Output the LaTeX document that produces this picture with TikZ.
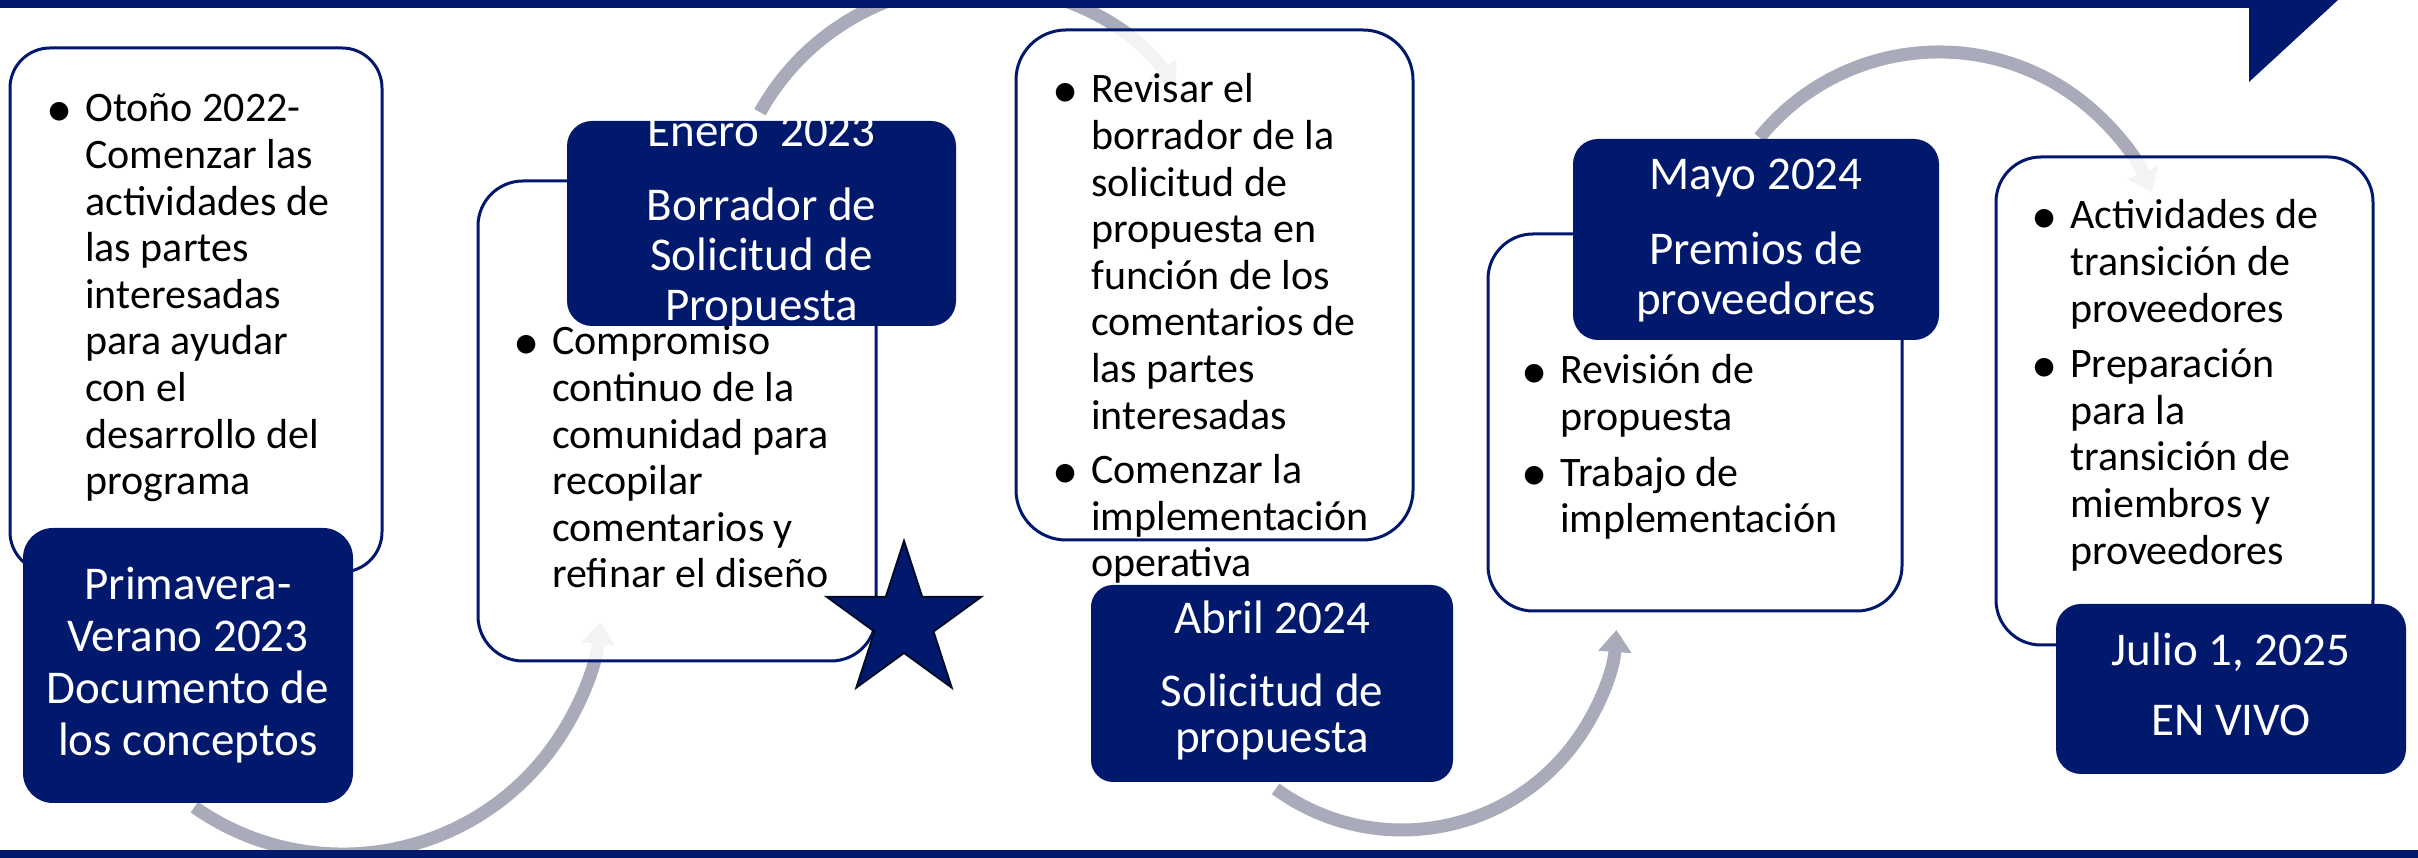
\documentclass[tikz,border=0pt]{standalone}
\usepackage{fontspec}
\setmainfont{Carlito}
\usetikzlibrary{arrows.meta,shapes.geometric}
\definecolor{navy}{RGB}{0,25,108}
\definecolor{arcgray}{RGB}{170,171,186}
\newcommand{\wfont}{\fontsize{42}{46.6}\selectfont}
\newcommand{\bul}{\leavevmode\llap{\raisebox{-4.5pt}{\scalebox{1.25}{\textbullet}}\hspace{13pt}}}
\newcommand{\wtext}[1]{\parbox[t]{420pt}{\raggedright\wfont #1}}
\newcommand{\dtext}[2]{\parbox[t]{500pt}{\centering\fontsize{47}{#1}\selectfont #2}}
\tikzset{
  wbox/.style={draw=navy, line width=3pt, fill=white, fill opacity=0.86, rounded corners=45pt, inner sep=0pt},
  dbox/.style={fill=navy, rounded corners=25pt, inner sep=0pt},
  wtxt/.style={anchor=base west, inner sep=0pt, text=black},
  dtxt/.style={anchor=base, inner sep=0pt, text=white},
  flow/.style={draw=arcgray, line width=13pt, line cap=butt, -{Triangle[width=32pt,length=22pt]}},
  bar/.style={fill=navy, draw=none}
}
\begin{document}
\begin{tikzpicture}[x=1pt,y=1pt]
\useasboundingbox (0,0) rectangle (2418,858);
\clip (0,0) rectangle (2418,858);
\fill[white] (0,0) rectangle (2418,858);

% flow arcs
\coordinate (a1s) at (194.4,50.8);
\coordinate (a2s) at (760.0,745.8);
\coordinate (a3s) at (1275.6,69.1);
\coordinate (a4s) at (1759.5,720.4);
\draw[flow] (a1s) arc[start angle=235, end angle=354, radius=259pt];
\draw[flow] (a2s) arc[start angle=151, end angle=36, radius=247pt];
\draw[flow] (a3s) arc[start angle=234, end angle=356, radius=215pt];
\draw[flow] (a4s) arc[start angle=141, end angle=23, radius=231pt];

% white boxes
\node[wbox, rounded corners=40pt, minimum width=372pt, minimum height=524pt] (bA) at (196,548) {};
\node[wbox, minimum width=398pt, minimum height=480pt] (bC) at (677,437) {};
\node[wbox, rounded corners=50pt, minimum width=397pt, minimum height=510pt] (bD) at (1214.5,573) {};
\node[wbox, minimum width=414pt, minimum height=377pt] (bE) at (1695,435.5) {};
\node[wbox, minimum width=377pt, minimum height=488pt] (bF) at (2184.5,457) {};

% bullet texts
\node[wtxt] (tA) at (85,736) {\wtext{\bul Otoño 2022-\\Comenzar las\\actividades de\\las partes\\interesadas\\para ayudar\\con el\\desarrollo del\\programa}};
\node[wtxt] (tC) at (552,503) {\wtext{\bul Compromiso\\continuo de la\\comunidad para\\recopilar\\comentarios y\\refinar el diseño}};
\node[wtxt] (tD) at (1091,755) {\wtext{\bul Revisar el\\borrador de la\\solicitud de\\propuesta en\\función de los\\comentarios de\\las partes\\interesadas\\[8pt]\bul Comenzar la\\implementación\\operativa}};
\node[wtxt] (tE) at (1560,474) {\wtext{\bul Revisión de\\propuesta\\[9pt]\bul Trabajo de\\implementación}};
\node[wtxt] (tF) at (2070,629) {\wtext{\bul Actividades de\\transición de\\proveedores\\[9pt]\bul Preparación\\para la\\transición de\\miembros y\\proveedores}};

% dark boxes
\node[dbox, rounded corners=30pt, minimum width=330pt, minimum height=275pt] (d1) at (188,192.5) {};
\node[dbox, minimum width=389pt, minimum height=205pt] (d2) at (761.5,634.5) {};
\node[dbox, rounded corners=22pt, minimum width=362pt, minimum height=197pt] (d3) at (1272,174.5) {};
\node[dbox, minimum width=366pt, minimum height=201pt] (d4) at (1756,618.5) {};
\node[dbox, minimum width=350pt, minimum height=170pt] (d5) at (2231,169) {};

\node[dtxt] (t1) at (188,258) {\dtext{51.7pt}{Primavera-\\Verano 2023\\Documento de\\los conceptos}};
\node[dtxt] (t2) at (761.5,711) {\dtext{50pt}{Enero\ \ 2023\\[24pt]Borrador de\\Solicitud de\\Propuesta}};
\node[dtxt] (t3) at (1272,224) {\dtext{46pt}{Abril 2024\\[27pt]Solicitud de\\propuesta}};
\node[dtxt] (t4) at (1756,668) {\dtext{50.5pt}{Mayo 2024\\[24pt]Premios de\\proveedores}};
\node[dtxt] (t5) at (2231,192) {\dtext{50pt}{Julio 1, 2025\\[20pt]EN VIVO}};

% star
\node[star, star points=5, star point ratio=2.618, minimum size=162pt, inner sep=0pt,
      fill=navy, draw=black!60!navy, line width=2pt] (star) at (904,236) {};

% bars
\fill[bar] (0,858) -- (2338,858) -- (2249,776) -- (2249,850) -- (0,850) -- cycle;
\fill[bar] (0,0) rectangle (2418,8);
\end{tikzpicture}
\end{document}
